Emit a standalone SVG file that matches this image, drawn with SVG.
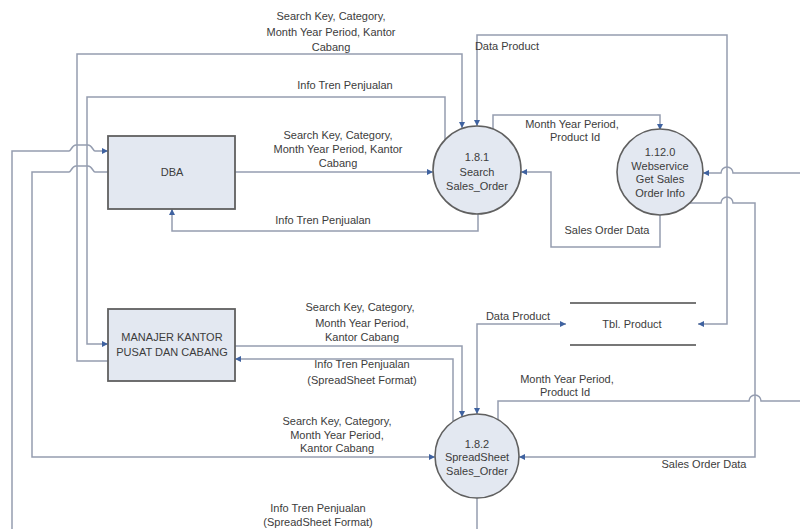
<svg xmlns="http://www.w3.org/2000/svg" width="800" height="529" viewBox="0 0 800 529">
  <style>
    .flow { fill: none; stroke: #959db0; stroke-width: 1.5; }
    .entity { fill: #e3e8f1; stroke: #606060; stroke-width: 1.8; }
    .process { fill: #e3e8f1; stroke: #606060; stroke-width: 1.6; }
    .store { stroke: #4a4a4a; stroke-width: 1.3; }
    text { font-family: "Liberation Sans", Arial, sans-serif; font-size: 11px; fill: #3c3c3c; text-anchor: middle; }
  </style>
  <defs>
    <marker id="arrow" viewBox="0 0 10 10" refX="10" refY="5" markerWidth="7" markerHeight="6" markerUnits="userSpaceOnUse" orient="auto-start-reverse">
      <path d="M0,0 L10,5 L0,10 z" fill="#3f62a0"/>
    </marker>
  </defs>
  <rect width="800" height="529" fill="#ffffff"/>

  <g id="connectors">
    <!-- MANAJER -> 1.8.1 -->
    <path class="flow" d="M108,361 H77 V54 H462 V128" marker-end="url(#arrow)"/>
    <!-- 1.8.1 -> MANAJER -->
    <path class="flow" d="M445,140 V97 H87 V344 H108" marker-end="url(#arrow)"/>
    <!-- Tbl. Product <-> 1.8.1 -->
    <path class="flow" d="M477,126 V35 H727 V324 H698" marker-start="url(#arrow)" marker-end="url(#arrow)"/>
    <!-- DBA -> 1.8.1 -->
    <path class="flow" d="M235,172 H433" marker-end="url(#arrow)"/>
    <!-- 1.8.1 -> DBA -->
    <path class="flow" d="M478,214 V231 H172 V209" marker-end="url(#arrow)"/>
    <!-- 1.8.1 -> 1.12.0 -->
    <path class="flow" d="M493,129 V115 H660 V130" marker-end="url(#arrow)"/>
    <!-- 1.12.0 -> 1.8.1 -->
    <path class="flow" d="M660,215 V247 H551 V172 H521" marker-end="url(#arrow)"/>
    <!-- incoming from the right -> 1.12.0 -->
    <path class="flow" d="M800,173 H733 A6,6 0 0 0 721,173 H703" marker-end="url(#arrow)"/>
    <!-- 1.12.0 -> 1.8.2 -->
    <path class="flow" d="M690,203 H721 A6,6 0 0 1 733,203 H755 V457 H519" marker-end="url(#arrow)"/>
    <!-- 1.8.2 -> outgoing to the right -->
    <path class="flow" d="M498,420 V401 H749 A6,6 0 0 1 761,401 H800"/>
    <!-- 1.8.2 -> DBA (spreadsheet) -->
    <path class="flow" d="M477,498 V545 H12 V151 H69 C71,151 72,145 76,145 H88 C92,145 93,151 95,151 H108" marker-end="url(#arrow)"/>
    <!-- DBA -> 1.8.2 -->
    <path class="flow" d="M108,172 H95 C93,172 92,166 88,166 H76 C72,166 71,172 69,172 H32 V457 H435" marker-end="url(#arrow)"/>
    <!-- MANAJER -> 1.8.2 -->
    <path class="flow" d="M235,346 H462 V417" marker-end="url(#arrow)"/>
    <!-- 1.8.2 -> MANAJER -->
    <path class="flow" d="M453,421 V359 H235" marker-end="url(#arrow)"/>
    <!-- Tbl. Product <-> 1.8.2 -->
    <path class="flow" d="M477,414 V324 H566" marker-start="url(#arrow)" marker-end="url(#arrow)"/>
  </g>

  <g id="flow-labels">
    <text x="331" y="20">Search Key, Category,</text>
    <text x="331" y="36">Month Year Period, Kantor</text>
    <text x="331" y="51">Cabang</text>
    <text x="345" y="89">Info Tren Penjualan</text>
    <text x="338" y="139">Search Key, Category,</text>
    <text x="338" y="153">Month Year Period, Kantor</text>
    <text x="338" y="167">Cabang</text>
    <text x="323" y="224">Info Tren Penjualan</text>
    <text x="507" y="50">Data Product</text>
    <text x="572" y="128">Month Year Period,</text>
    <text x="575" y="141">Product Id</text>
    <text x="607" y="234">Sales Order Data</text>
    <text x="518" y="320">Data Product</text>
    <text x="360" y="311">Search Key, Category,</text>
    <text x="362" y="327">Month Year Period,</text>
    <text x="362" y="341">Kantor Cabang</text>
    <text x="362" y="368">Info Tren Penjualan</text>
    <text x="362" y="384">(SpreadSheet Format)</text>
    <text x="337" y="425">Search Key, Category,</text>
    <text x="337" y="439">Month Year Period,</text>
    <text x="337" y="452">Kantor Cabang</text>
    <text x="318" y="512">Info Tren Penjualan</text>
    <text x="318" y="526">(SpreadSheet Format)</text>
    <text x="567" y="383">Month Year Period,</text>
    <text x="565" y="396">Product Id</text>
    <text x="704" y="468">Sales Order Data</text>
  </g>

  <g id="dba">
    <rect class="entity" x="108" y="136" width="127" height="73"/>
    <text x="172" y="176">DBA</text>
  </g>

  <g id="manajer">
    <rect class="entity" x="108" y="309" width="127" height="72"/>
    <text x="172" y="341">MANAJER KANTOR</text>
    <text x="172" y="356">PUSAT DAN CABANG</text>
  </g>

  <g id="p-1-8-1">
    <circle class="process" cx="477" cy="170" r="44"/>
    <text x="477" y="161">1.8.1</text>
    <text x="477" y="176">Search</text>
    <text x="477" y="190">Sales_Order</text>
  </g>

  <g id="p-1-12-0">
    <circle class="process" cx="660" cy="172" r="43"/>
    <text x="660" y="156">1.12.0</text>
    <text x="660" y="170">Webservice</text>
    <text x="660" y="183">Get Sales</text>
    <text x="660" y="197">Order Info</text>
  </g>

  <g id="p-1-8-2">
    <circle class="process" cx="477" cy="456" r="42"/>
    <text x="477" y="448">1.8.2</text>
    <text x="477" y="461">SpreadSheet</text>
    <text x="477" y="475">Sales_Order</text>
  </g>

  <g id="tbl-product">
    <line class="store" x1="570" y1="303" x2="696" y2="303"/>
    <line class="store" x1="570" y1="345" x2="696" y2="345"/>
    <text x="632" y="328">Tbl. Product</text>
  </g>
</svg>
